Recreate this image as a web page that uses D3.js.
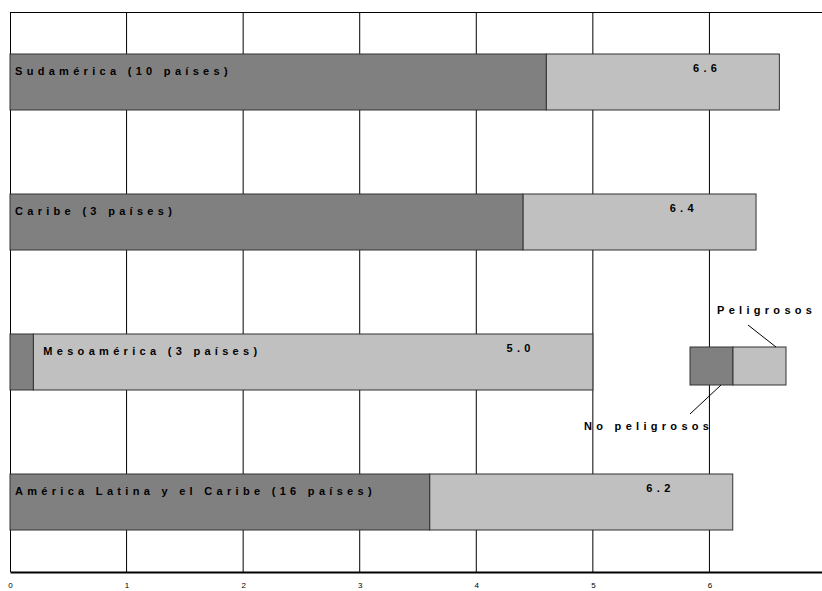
<!DOCTYPE html><html><head><meta charset="utf-8"><script src="https://cdn.jsdelivr.net/npm/d3@7"></script>
<style>body{margin:0;background:#fff}text{font-family:Arial,"Liberation Sans",sans-serif}</style></head><body><svg id="c" width="822" height="591"></svg>
<script>
const categories=["Sudamérica (10 países)","Caribe (3 países)","Mesoamérica (3 países)","América Latina y el Caribe (16 países)"];
const noPeligrosos=[4.6,4.4,0.2,3.6];
const totals=[6.6,6.4,5.0,6.2];
const ticks=[0,1,2,3,4,5,6,7];
const svg=d3.select("#c");
const x=d3.scaleLinear().domain([0,7]).range([10,826]);
const y=d3.scaleBand().domain(categories).range([12,572]).paddingInner(0.6).paddingOuter(0.3);
const g=svg.append("g");
const ls=4.3;
g.selectAll(".grid").data(ticks.slice(1)).join("line").attr("x1",d=>x(d)).attr("x2",d=>x(d)).attr("y1",12).attr("y2",572).attr("stroke","#000").attr("stroke-width",1);
g.append("line").attr("x1",10).attr("x2",822).attr("y1",12.5).attr("y2",12.5).attr("stroke","#000");
g.append("line").attr("x1",10.5).attr("x2",10.5).attr("y1",12).attr("y2",572).attr("stroke","#000");
categories.forEach((c,i)=>{
  const yy=y(c),h=y.bandwidth();
  g.append("rect").attr("x",x(noPeligrosos[i])).attr("y",yy).attr("width",x(totals[i])-x(noPeligrosos[i])).attr("height",h).attr("fill","#c0c0c0").attr("stroke","#333");
  g.append("rect").attr("x",x(0)).attr("y",yy).attr("width",x(noPeligrosos[i])-x(0)).attr("height",h).attr("fill","#808080").attr("stroke","#333");
  g.append("text").attr("x",i==2?x(0.2)+10:x(0)+5).attr("y",yy+21).attr("font-size",11).attr("font-weight","bold").attr("letter-spacing",ls).text(c);
  g.append("text").attr("x",x(totals[i]-0.62)).attr("y",yy+18).attr("font-size",11).attr("font-weight","bold").attr("letter-spacing",ls).attr("text-anchor","middle").text(totals[i].toFixed(1));
});
const ax=svg.append("g").attr("transform","translate(0,572)").call(d3.axisBottom(x).tickValues(ticks).tickSize(0).tickPadding(10).tickFormat(d3.format("d")));
ax.select(".domain").attr("stroke-width",2);
ax.selectAll("text").attr("font-size",8).attr("font-family","Arial");
svg.append("rect").attr("x",690).attr("y",347).attr("width",43).attr("height",38).attr("fill","#808080").attr("stroke","#333");
svg.append("rect").attr("x",733).attr("y",347).attr("width",53).attr("height",38).attr("fill","#c0c0c0").attr("stroke","#333");
svg.append("line").attr("x1",748).attr("y1",325).attr("x2",776).attr("y2",347).attr("stroke","#000");
svg.append("line").attr("x1",690).attr("y1",414).attr("x2",721).attr("y2",385).attr("stroke","#000");
svg.append("text").attr("x",717).attr("y",314).attr("font-size",11).attr("font-weight","bold").attr("letter-spacing",ls).text("Peligrosos");
svg.append("text").attr("x",584).attr("y",430).attr("font-size",11).attr("font-weight","bold").attr("letter-spacing",ls).text("No peligrosos");
</script></body></html>
